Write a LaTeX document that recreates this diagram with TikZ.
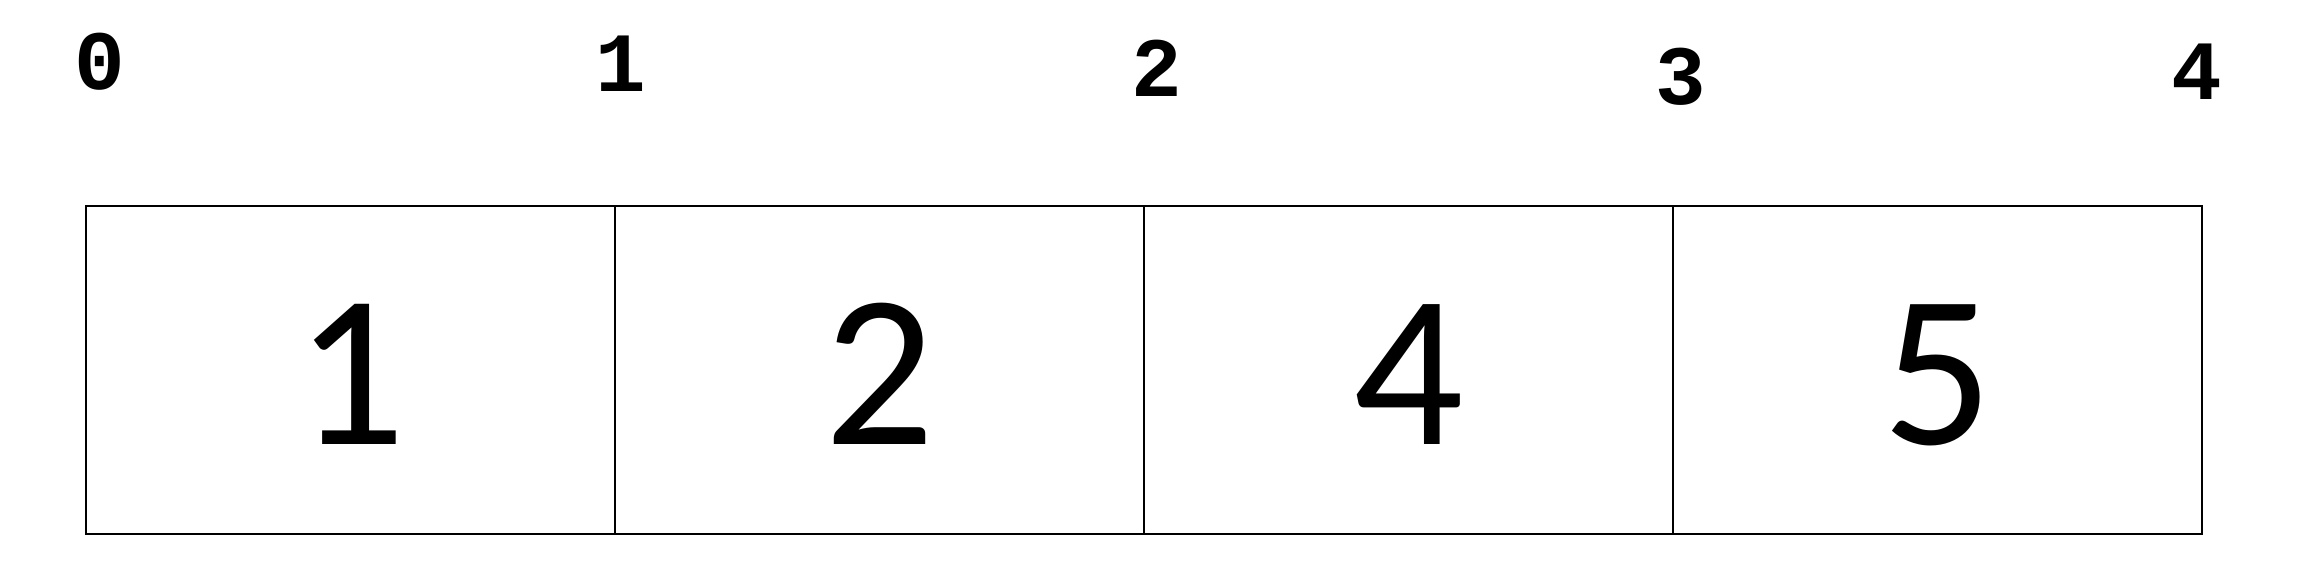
\documentclass[tikz,border=0pt]{standalone}
\usepackage{fontspec}
\setmainfont{Carlito}
\newfontfamily\idxfont{Liberation Mono}
\usetikzlibrary{positioning}

\begin{document}
\begin{tikzpicture}[
    cell/.style={rectangle,draw,line width=0.55pt,inner sep=0pt,outer sep=0pt,
        minimum width=5.29cm,minimum height=3.28cm,
        font=\fontsize{62}{62}\selectfont,text height=1.5cm,text depth=0pt},
    index/.style={rectangle,inner sep=0pt,anchor=base,
        font=\idxfont\bfseries\fontsize{24}{24}\selectfont}]
        \useasboundingbox (0,0) rectangle (23.05,5.64);

        \node[cell] (a_0) at (3.505,1.94) {1};
        \node[cell] (a_1) [right=0pt of a_0] {2};
        \node[cell] (a_2) [right=0pt of a_1] {4};
        \node[cell] (a_3) [right=0pt of a_2] {5};

        \node[index] (i_0) at (1.00,4.74) {0};
        \node[index] (i_1) at (6.21,4.72) {1};
        \node[index] (i_2) at (11.57,4.67) {2};
        \node[index] (i_3) at (16.81,4.59) {3};
        \node[index] (i_4) at (21.97,4.64) {4};

\end{tikzpicture}
\end{document}
